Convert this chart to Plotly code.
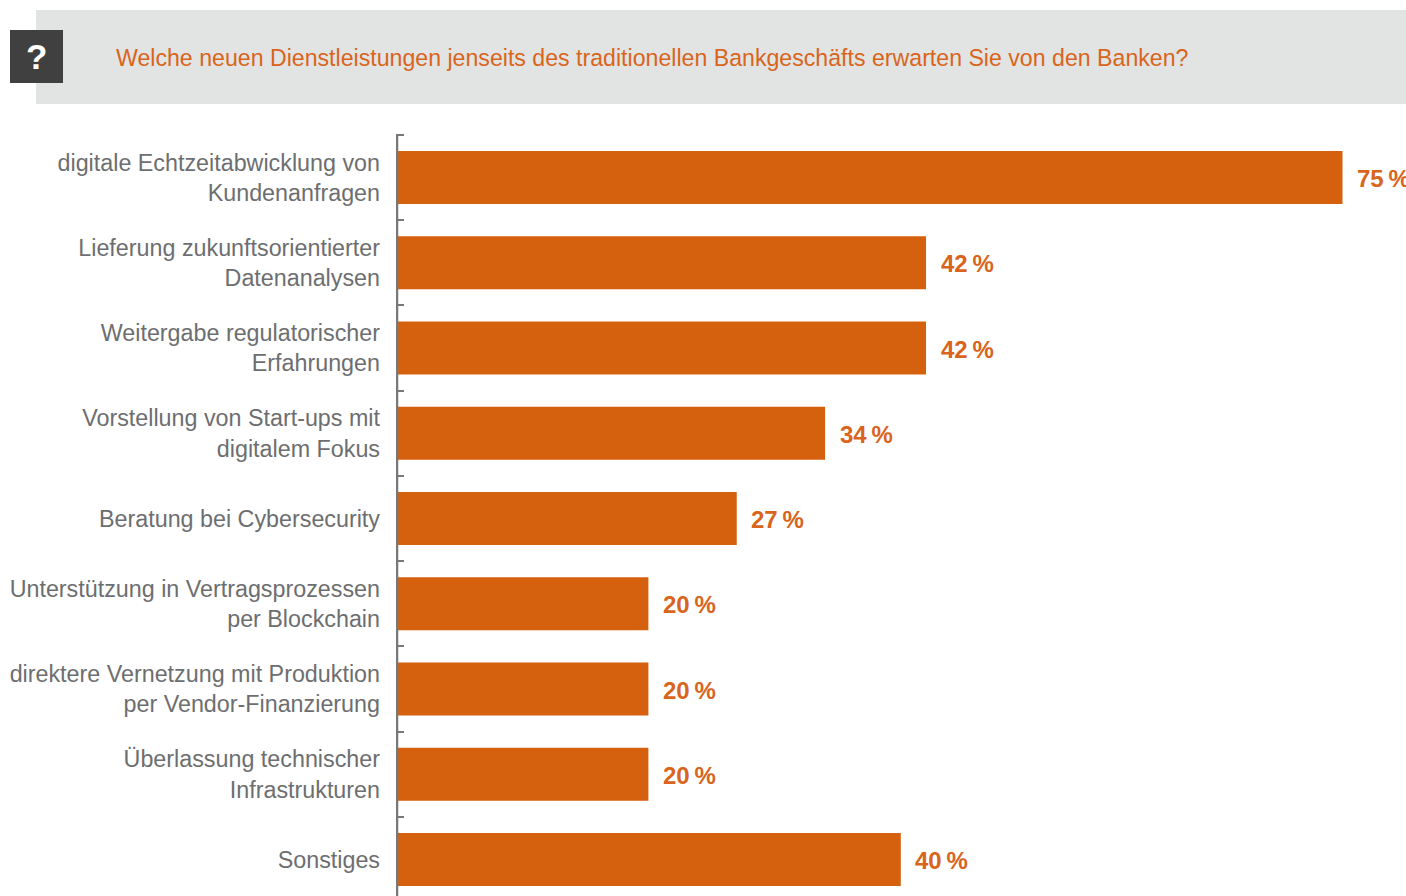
import plotly.graph_objects as go

W, H = 1406, 896

categories = [
    "digitale Echtzeitabwicklung von<br>Kundenanfragen",
    "Lieferung zukunftsorientierter<br>Datenanalysen",
    "Weitergabe regulatorischer<br>Erfahrungen",
    "Vorstellung von Start-ups mit<br>digitalem Fokus",
    "Beratung bei Cybersecurity",
    "Unterstützung in Vertragsprozessen<br>per Blockchain",
    "direktere Vernetzung mit Produktion<br>per Vendor-Finanzierung",
    "Überlassung technischer<br>Infrastrukturen",
    "Sonstiges",
]
values = [75, 42, 42, 34, 27, 20, 20, 20, 40]
question = "Welche neuen Dienstleistungen jenseits des traditionellen Bankgeschäfts erwarten Sie von den Banken?"

ORANGE = "#d5610e"
TEXT_ORANGE = "#d9641c"
GREY = "#6d6e70"
AXIS_GREY = "#77787a"
FONT = "Liberation Sans"
PX_PER_PERCENT = 12.62
X0 = 396

fig = go.Figure(
    go.Bar(
        x=values,
        y=categories,
        orientation="h",
        width=53 / 85.25,
        marker=dict(color=ORANGE, line=dict(width=0)),
        hoverinfo="skip",
    )
)

# Percentage labels placed just past each bar end
annotations = [
    dict(
        x=v, y=c, xref="x", yref="y", text=f"<b>{v}\u2009%</b>",
        showarrow=False, xanchor="left", yanchor="middle", xshift=12.5, yshift=-1,
        font=dict(family=FONT, size=24, color=TEXT_ORANGE),
    )
    for c, v in zip(categories, values)
]
# White question mark on the dark square
annotations.append(dict(
    x=36.5 / W, y=1 - 57 / H, xref="paper", yref="paper", text="<b>?</b>",
    showarrow=False, xanchor="center", yanchor="middle",
    font=dict(family=FONT, size=35, color="white"),
))

fig.update_layout(
    width=W, height=H,
    autosize=False,
    margin=dict(l=0, r=0, t=0, b=0),
    paper_bgcolor="white", plot_bgcolor="white",
    showlegend=False,
    title=dict(
        text=question, x=116 / W, xanchor="left", xref="paper",
        y=1 - 58 / H, yanchor="middle", yref="paper",
        font=dict(family=FONT, size=23.15, color=TEXT_ORANGE),
    ),
    xaxis=dict(domain=[X0 / W, 1], range=[0, (W - X0) / PX_PER_PERCENT], visible=False),
    yaxis=dict(
        domain=[0, (H - 135) / H],
        range=[8.428, -0.5],
        type="category",
        tickson="boundaries",
        ticks="inside", ticklen=8, tickwidth=2, tickcolor=AXIS_GREY,
        showline=False,
        showgrid=False, zeroline=False,
        tickfont=dict(family=FONT, size=23.3, color=GREY),
        ticklabelstandoff=15,
    ),
    shapes=[
        dict(type="rect", xref="paper", yref="paper", layer="below",
             x0=36 / W, x1=1, y0=1 - 104 / H, y1=1 - 10 / H,
             fillcolor="#e2e4e3", line=dict(width=0)),
        dict(type="rect", xref="paper", yref="paper", layer="below",
             x0=10 / W, x1=63 / W, y0=1 - 83 / H, y1=1 - 30 / H,
             fillcolor="#404041", line=dict(width=0)),
        # Vertical axis rule running over the bar bases, with its top end tick
        dict(type="line", xref="x", yref="y domain", layer="above",
             x0=0.08, x1=0.08, y0=0, y1=1,
             line=dict(color=AXIS_GREY, width=2.5)),
        dict(type="line", xref="paper", yref="y domain", layer="above",
             x0=X0 / W, x1=404 / W, y0=1, y1=1,
             line=dict(color=AXIS_GREY, width=2)),
    ],
    annotations=annotations,
)

fig.write_html("out.html", config=dict(displayModeBar=False))
